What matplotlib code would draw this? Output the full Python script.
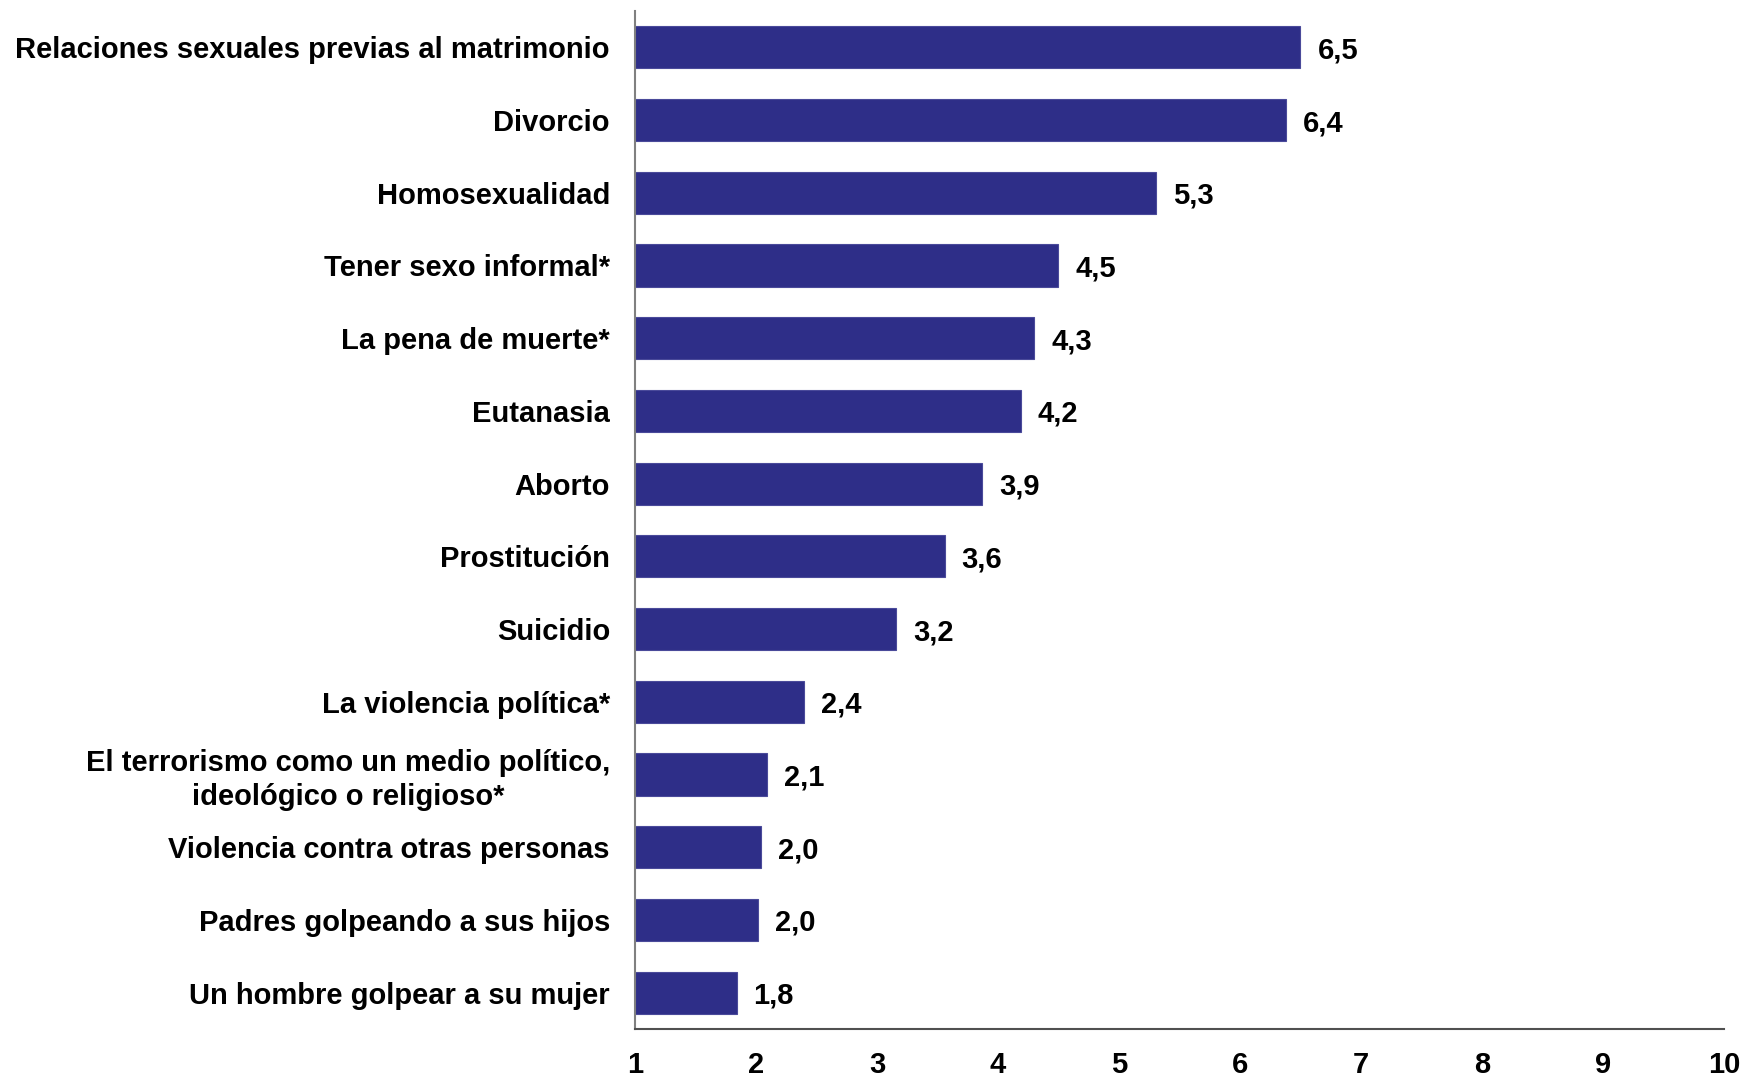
import matplotlib
matplotlib.use("Agg")
from matplotlib import pyplot as plt

# datos
categorias = [
    "Relaciones sexuales previas al matrimonio",
    "Divorcio",
    "Homosexualidad",
    "Tener sexo informal*",
    "La pena de muerte*",
    "Eutanasia",
    "Aborto",
    "Prostitución",
    "Suicidio",
    "La violencia política*",
    "El terrorismo como un medio político,\nideológico o religioso*",
    "Violencia contra otras personas",
    "Padres golpeando a sus hijos",
    "Un hombre golpear a su mujer",
]
# longitud de barra (sin redondear) y etiqueta mostrada
valores = [6.50, 6.38, 5.31, 4.50, 4.30, 4.19, 3.87, 3.56, 3.16, 2.40, 2.09, 2.04, 2.02, 1.84]
etiquetas = ["6,5", "6,4", "5,3", "4,5", "4,3", "4,2", "3,9", "3,6", "3,2",
             "2,4", "2,1", "2,0", "2,0", "1,8"]
ticks_x = [1, 2, 3, 4, 5, 6, 7, 8, 9, 10]

plt.rcParams['font.family'] = ['Liberation Sans', 'DejaVu Sans']
plt.rcParams['font.weight'] = 'bold'

fig = plt.figure(figsize=(17.44, 10.76), dpi=100)
ax = fig.add_axes([0.3641, 0.0437, 0.6244, 0.9461])

pos = list(range(len(categorias)))
base = ticks_x[0]
ax.barh(pos, [v - base for v in valores], left=base, height=0.58,
        color='#2E2E88', edgecolor='#4a4a9a', linewidth=0.8)

for p, v, e in zip(pos, valores, etiquetas):
    ax.text(v + 0.14, p, e, va='center_baseline', ha='left',
            fontsize=21, fontweight='bold', color='black')

ax.set_xlim(1, 10)
ax.set_ylim(13.5, -0.5)
ax.set_yticks(pos)
ax.set_yticklabels(categorias, fontsize=21, fontweight='bold', ha='right',
                   multialignment='center', linespacing=1.25)
ax.set_xticks(ticks_x)
ax.set_xticklabels([str(t) for t in ticks_x], fontsize=21, fontweight='bold')
ax.tick_params(axis='y', length=0, pad=18)
ax.tick_params(axis='x', length=0, pad=16)

ax.spines['top'].set_visible(False)
ax.spines['right'].set_visible(False)
ax.spines['left'].set_color('#808080')
ax.spines['left'].set_linewidth(1.5)
ax.spines['bottom'].set_color('#505050')
ax.spines['bottom'].set_linewidth(1.5)

fig.savefig('out.png', dpi=100)
